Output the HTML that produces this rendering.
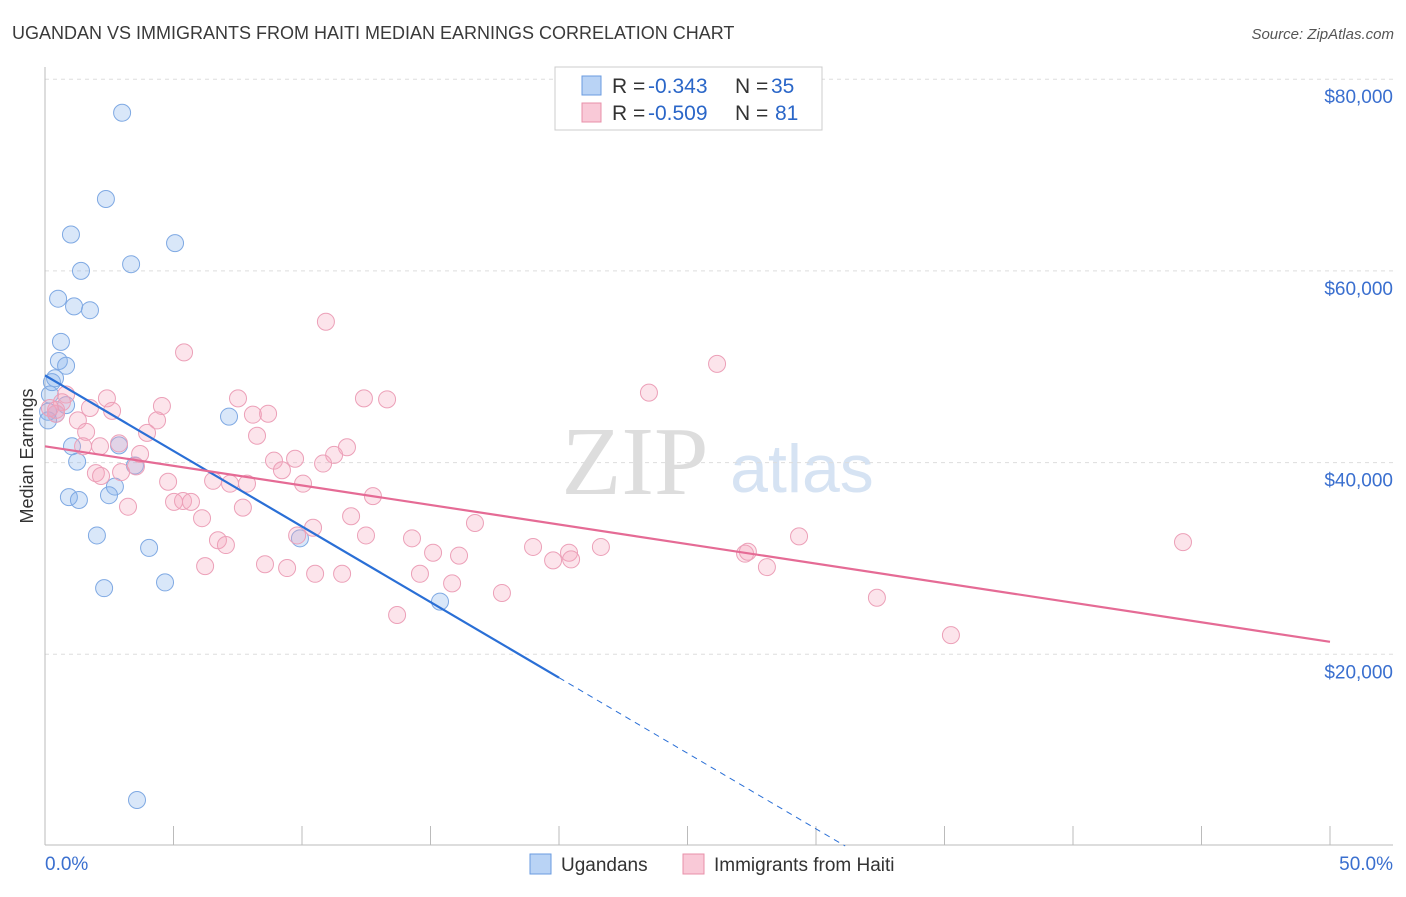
<!DOCTYPE html>
<html><head><meta charset="utf-8"><style>
body{margin:0;background:#fff;font-family:"Liberation Sans",sans-serif}
</style></head><body>
<svg id="c" width="1406" height="892" xmlns="http://www.w3.org/2000/svg">
<text x="12" y="39" font-size="18" fill="#3a3a3a">UGANDAN VS IMMIGRANTS FROM HAITI MEDIAN EARNINGS CORRELATION CHART</text>
<text x="1394" y="39" font-size="15" fill="#555" text-anchor="end" font-style="italic">Source: ZipAtlas.com</text>
<text x="33" y="456" font-size="18" fill="#333" text-anchor="middle" transform="rotate(-90 33 456)">Median Earnings</text>
<text x="635" y="494" font-size="98" fill="#ddd" font-family="Liberation Serif,serif" text-anchor="middle">ZIP</text>
<text x="802" y="492" font-size="68" fill="#d6e3f3" text-anchor="middle">atlas</text>
<g id="grid"></g><g id="marks"></g>
<g>
<rect x="555" y="67" width="267" height="63" fill="#fff" stroke="#ccc"/>
<rect x="582" y="76" width="19" height="19" fill="#b9d3f5" stroke="#6a9be0"/>
<rect x="582" y="103" width="19" height="19" fill="#f9c9d7" stroke="#e890aa"/>
<text y="93" font-size="21" fill="#333"><tspan x="612">R =</tspan><tspan x="648" fill="#2a66c8">-0.343</tspan><tspan x="735">N =</tspan><tspan x="771" fill="#2a66c8">35</tspan></text>
<text y="120" font-size="21" fill="#333"><tspan x="612">R =</tspan><tspan x="648" fill="#2a66c8">-0.509</tspan><tspan x="735">N =</tspan><tspan x="775" fill="#2a66c8">81</tspan></text>
</g>
<g>
<rect x="530" y="854" width="21" height="20" fill="#b9d3f5" stroke="#6a9be0"/>
<text x="561" y="871" font-size="19" fill="#333">Ugandans</text>
<rect x="683" y="854" width="21" height="20" fill="#f9c9d7" stroke="#e890aa"/>
<text x="714" y="871" font-size="19" fill="#333">Immigrants from Haiti</text>
</g>
</svg>
<script>
const yTicks=[20000,40000,60000,80000];
const yTickLabels=["$20,000","$40,000","$60,000","$80,000"];
const xTickLabels=["0.0%","50.0%"];
const ugX=[3.0,2.37,1.01,5.06,3.35,1.40,0.51,1.13,1.75,0.62,0.54,0.82,0.39,0.27,0.19,0.12,0.43,0.12,0.82,2.88,1.05,1.25,3.50,2.72,2.49,0.93,1.32,7.16,2.02,4.05,9.92,4.67,2.30,15.37,3.58];
const ugY=[76.5,67.5,63.8,62.9,60.7,60.0,57.1,56.3,55.9,52.6,50.6,50.1,48.8,48.4,47.1,45.3,45.1,44.4,46.0,41.8,41.7,40.1,39.7,37.5,36.6,36.4,36.1,44.8,32.4,31.1,32.1,27.5,26.9,25.5,4.8];
const htX=[10.93,5.41,26.15,23.5,2.41,7.51,12.41,13.31,4.55,2.61,8.09,8.68,0.82,0.66,0.43,1.28,1.60,4.36,3.97,8.25,11.75,2.88,1.48,3.70,8.91,9.73,11.25,10.82,9.22,1.98,2.96,2.18,3.54,4.79,6.54,7.2,7.86,10.04,12.76,5.02,5.37,5.68,3.23,7.70,6.11,11.91,16.73,10.43,6.73,7.04,14.28,12.49,9.81,15.10,16.11,18.99,20.39,20.47,21.63,19.77,27.24,27.35,29.34,44.28,6.23,8.56,9.42,10.51,11.56,14.59,15.84,17.78,28.09,32.37,13.70,35.25,2.14,1.75,0.43,0.19];
const htY=[54.7,51.5,50.3,47.3,46.7,46.7,46.7,46.6,45.9,45.4,45.0,45.1,47.1,46.3,45.1,44.4,43.2,44.4,43.1,42.8,41.6,42.0,41.7,40.9,40.2,40.4,40.8,39.9,39.2,38.9,39.0,38.6,39.6,38.0,38.1,37.8,37.8,37.8,36.5,35.9,36.0,35.9,35.4,35.3,34.2,34.4,33.7,33.2,31.9,31.4,32.1,32.4,32.4,30.6,30.3,31.2,30.6,29.9,31.2,29.8,30.5,30.7,32.3,31.7,29.2,29.4,29.0,28.4,28.4,28.4,27.4,26.4,29.1,25.9,24.1,22.0,41.7,45.7,45.5,45.7];
const ugTrend=[49.1,-1.577];
const htTrend=[41.7,-0.408];
const X0=45,X1=1330,Yb=846,pxPerK=9.585;
const sx=v=>X0+(v/50)*(X1-X0);
const sy=k=>Yb-k*pxPerK;
const NS="http://www.w3.org/2000/svg";
function mk(t,a,p){const e=document.createElementNS(NS,t);for(const k in a)e.setAttribute(k,a[k]);p.appendChild(e);return e;}
const g=document.getElementById('grid'),m=document.getElementById('marks');
yTicks.forEach((t,i)=>{
 const y=sy(t/1000);
 const l=mk('line',{x1:45,x2:1393,y1:y,y2:y,stroke:'#ddd','stroke-dasharray':'4,4'},g);
 
 
 const tx=mk('text',{x:1393,y:y+24,'font-size':19,fill:'#3a6fcf','text-anchor':'end'},g);
 tx.textContent=yTickLabels[i];
 
 
});
mk('line',{x1:45,x2:45,y1:67,y2:845,stroke:'#bbb'},g);
mk('line',{x1:45,x2:1393,y1:845,y2:845,stroke:'#bbb'},g);
for(let i=0;i<=10;i++){const x=sx(i*5);const t=mk('line',{x1:x,x2:x,y1:826,y2:845,stroke:'#bbb'},g);
 
 }
[[0,'start',45],[50,'end',1393]].forEach((d,i)=>{const t=mk('text',{x:d[2],y:870,'font-size':19,fill:'#3a6fcf','text-anchor':d[1]},g);t.textContent=xTickLabels[i];
 
 });
ugX.forEach((x,i)=>{const c=mk('circle',{cx:sx(x),cy:sy(ugY[i]),r:8.5,fill:'rgba(130,175,235,0.3)',stroke:'#7fa9e3','stroke-width':1},m);
 
 });
htX.forEach((x,i)=>{const c=mk('circle',{cx:sx(x),cy:sy(htY[i]),r:8.5,fill:'rgba(245,165,190,0.3)',stroke:'#eca0b8','stroke-width':1},m);
 
 });
const uf=x=>ugTrend[0]+ugTrend[1]*x, hf=x=>htTrend[0]+htTrend[1]*x;
const xz=-ugTrend[0]/ugTrend[1];
const l1=mk('line',{x1:sx(0),y1:sy(uf(0)),x2:sx(20),y2:sy(uf(20)),stroke:'#2a6fd6','stroke-width':2.2},m);


const l2=mk('line',{x1:sx(20),y1:sy(uf(20)),x2:sx(xz),y2:sy(0),stroke:'#2a6fd6','stroke-width':1,'stroke-dasharray':'6,5'},m);


const l3=mk('line',{x1:sx(0),y1:sy(hf(0)),x2:sx(50),y2:sy(hf(50)),stroke:'#e56b95','stroke-width':2.2},m);


</script>
</body></html>
